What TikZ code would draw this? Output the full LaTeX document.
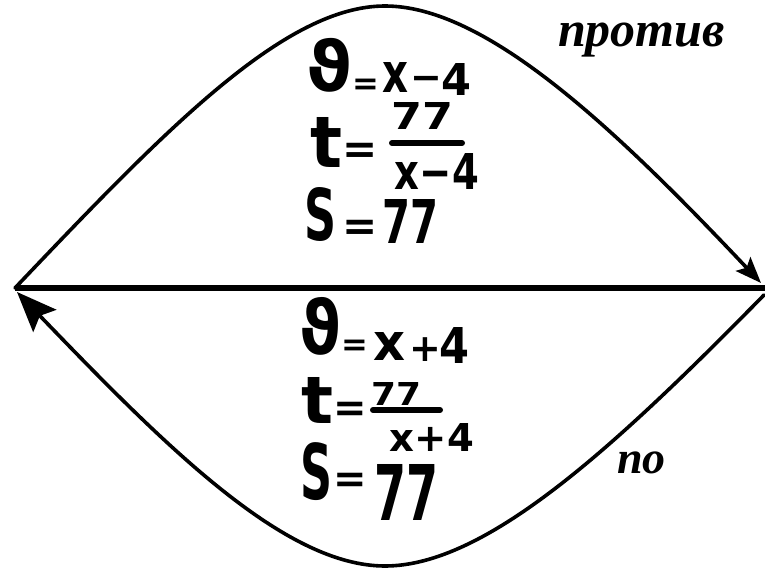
\documentclass[tikz,border=0pt]{standalone}
\usepackage{fontspec}
\usepackage{graphicx}
\usetikzlibrary{arrows.meta}
\newfontfamily\handfont{DejaVu Sans}
\newfontfamily\labfont{Liberation Serif}
\newcommand{\hg}[3]{\resizebox*{#1pt}{#2pt}{\handfont\bfseries #3}}
\newcommand{\hop}[2]{{\handfont\bfseries\fontsize{#1}{#1}\selectfont #2}}
\begin{document}
\begin{tikzpicture}[x=1pt,y=-1pt,
  glyph/.style={inner sep=0pt,outer sep=0pt,anchor=center},
  opr/.style={inner sep=0pt,outer sep=0pt,anchor=base},
  lab/.style={inner sep=0pt,outer sep=0pt,anchor=base west,font=\labfont\bfseries\itshape},
  arc/.style={line width=3.6pt,line cap=round},
  axis/.style={line width=6pt},
  fbar/.style={line width=6pt,line cap=round}]
\useasboundingbox (0,0) rectangle (765,569);
\fill[white] (0,0) rectangle (765,569);
% end points
\coordinate (A) at (15,288);
\coordinate (B) at (765,288);
\coordinate (Bu) at (761,283);
\coordinate (Bl) at (764,295);
\coordinate (Al) at (17,292);
\coordinate (Top) at (385,6);
\coordinate (Bot) at (385,566);
% horizontal line
\draw[axis] (A) -- (B);
% upper curve
\draw[arc,-{Stealth[length=26pt,width=20pt,inset=5pt]}] (A) .. controls (167,128) and (285,6) .. (Top)
   .. controls (485,6) and (612,125) .. (Bu);
% lower curve
\draw[arc,-{Stealth[length=40pt,width=32pt,inset=7pt]}] (Bl) .. controls (612,450) and (485,566) .. (Bot)
   .. controls (285,566) and (167,448) .. (Al);
% labels
\node[lab,font=\labfont\bfseries\itshape\fontsize{50}{50}\selectfont] (protiv) at (558,47) {против};
\node[lab,font=\labfont\bfseries\itshape\fontsize{46}{46}\selectfont] (po) at (617,473) {по};
% upper formulas
\node[glyph] (u1) at (329,65) {\hg{46}{54}{ϑ}};
\node[opr] (u2) at (366,95) {\hop{32}{=}};
\node[glyph] (u3) at (395,78) {\hg{26}{30}{x}};
\node[opr] (u4) at (426,91) {\hop{38}{−}};
\node[glyph] (u5) at (456,80) {\hg{30}{32}{4}};
\node[glyph] (u6) at (327,142) {\hg{32}{50}{t}};
\node[opr] (u7) at (360,164) {\hop{42}{=}};
\node[glyph] (u8) at (422,116) {\hg{62}{27}{77}};
\coordinate (u9a) at (392,143);
\coordinate (u9b) at (462,143);
\draw[fbar] (u9a) -- (u9b);
\node[glyph] (u10) at (437,171) {\hg{84}{36}{x−4}};
\node[glyph] (u11) at (321,215) {\hg{32}{54}{S}};
\node[opr] (u12) at (360,241) {\hop{42}{=}};
\node[glyph] (u13) at (410,221) {\hg{56}{44}{77}};
% lower formulas
\node[glyph] (l1) at (320,326) {\hg{42}{58}{ϑ}};
\node[opr] (l2) at (355,355) {\hop{32}{=}};
\node[glyph] (l3) at (389,346) {\hg{32}{28}{x}};
\node[opr] (l4) at (425,361) {\hop{38}{+}};
\node[glyph] (l5) at (454,345) {\hg{30}{36}{4}};
\node[glyph] (l6) at (318,400) {\hg{32}{46}{t}};
\node[opr] (l7) at (350,421) {\hop{40}{=}};
\node[glyph] (l8) at (396,394) {\hg{50}{23}{77}};
\coordinate (l9a) at (373,410);
\coordinate (l9b) at (440,410);
\draw[fbar] (l9a) -- (l9b);
\node[glyph] (l10) at (432,437) {\hg{84}{28}{x+4}};
\node[glyph] (l11) at (317,472) {\hg{32}{58}{S}};
\node[opr] (l12) at (350,492) {\hop{40}{=}};
\node[glyph] (l13) at (406,492) {\hg{64}{56}{77}};
\end{tikzpicture}
\end{document}
